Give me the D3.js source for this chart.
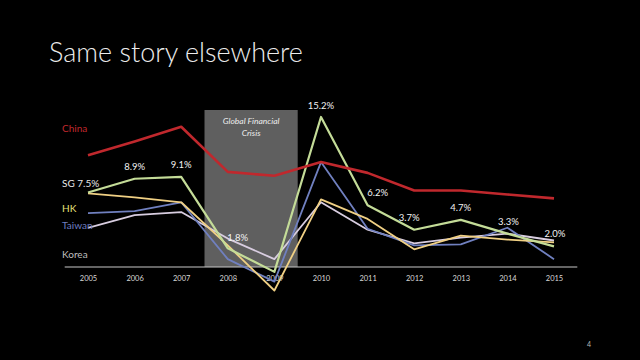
<!DOCTYPE html>
<html>
<head>
<meta charset="utf-8">
<script src="https://cdn.jsdelivr.net/npm/d3@7/dist/d3.min.js"></script>
<style>
html,body{margin:0;padding:0;background:#000;}
svg{display:block;}
text{font-family:Lato,"Open Sans",sans-serif;}
</style>
</head>
<body>
<svg id="c" width="640" height="360"></svg>
<script>
const years = [2005,2006,2007,2008,2009,2010,2011,2012,2013,2014,2015];
const china  = [11.3,12.7,14.2,9.6,9.2,10.6,9.5,7.7,7.7,7.3,6.9];
const sg     = [7.5,8.9,9.1,1.8,-0.6,15.2,6.2,3.7,4.7,3.3,2.0];
const hk     = [7.4,7.0,6.5,2.1,-2.5,6.8,4.8,1.7,3.1,2.7,2.4];
const taiwan = [5.4,5.6,6.5,0.7,-1.6,10.6,3.8,2.1,2.2,3.9,0.7];
const korea  = [3.9,5.2,5.5,2.8,0.7,6.5,3.7,2.3,2.9,3.3,2.6];
const sgLabels = [null,"8.9%","9.1%","1.8%",null,"15.2%","6.2%","3.7%","4.7%","3.3%","2.0%"];
const crisis = [2007.5,2009.5];
const crisisText = ["Global Financial","Crisis"];

const svg = d3.select("#c");
svg.append("rect").attr("width",640).attr("height",360).attr("fill","#000");

svg.append("text").attr("x",49).attr("y",62).attr("fill","#ececec")
  .attr("font-size",27).attr("font-weight",300).text("Same story elsewhere");

const x = d3.scaleLinear().domain([2005,2015]).range([88,554]);
const y = d3.scaleLinear().domain([0,15.2]).range([266,117]);

// crisis band
svg.append("rect").attr("x",x(crisis[0])).attr("width",x(crisis[1])-x(crisis[0]))
  .attr("y",110).attr("height",y(0)+1-110).attr("fill","#5f5f5f");
crisisText.forEach((t,i)=>{
  svg.append("text").attr("x",(x(crisis[0])+x(crisis[1]))/2).attr("y",124+i*12)
    .attr("text-anchor","middle").attr("font-size",8.5).attr("font-style","italic")
    .attr("fill","#eeeeee").text(t);
});

// axis
const axis = d3.axisBottom(x).tickValues(years).tickFormat(d3.format("d")).tickSize(0).tickPadding(9);
const ag = svg.append("g").attr("transform",`translate(0,${y(0)+1})`).call(axis);
ag.select(".domain").remove();
ag.append("line").attr("x1",x(2004.5)).attr("x2",x(2015.5)).attr("stroke","#c8c8c8").attr("stroke-width",1.2);
ag.selectAll(".tick text").attr("fill","#d8d8d8").attr("font-size",7.5).attr("font-family","Lato,sans-serif");

const line = d3.line().x((d,i)=>x(years[i])).y(d=>y(d));

const series = [
  {v:korea, c:"#d8cde0", w:1.8},
  {v:taiwan,c:"#7080c0", w:1.8},
  {v:hk,    c:"#f0d084", w:1.8},
  {v:sg,    c:"#c4dc98", w:2.2},
  {v:china, c:"#c0282d", w:2.6}
];
series.forEach(s=>{
  svg.append("path").attr("d",line(s.v)).attr("fill","none")
    .attr("stroke",s.c).attr("stroke-width",s.w).attr("stroke-linejoin","round");
});

// SG data labels
const lblOff = {1:[0,-9],2:[0,-9],3:[10,-7],5:[0,-8],6:[10,-9],7:[-5,-9],8:[0,-9],9:[1,-9],10:[1,-9]};
sgLabels.forEach((t,i)=>{
  if(!t) return;
  const o = lblOff[i];
  svg.append("text").attr("x",x(years[i])+o[0]).attr("y",y(sg[i])+o[1])
    .attr("text-anchor","middle").attr("font-size",9.5).attr("fill","#f2f2f2").text(t);
});

// series names
const names = [
  {t:"China", c:"#c0282d", yy:132},
  {t:"SG 7.5%", c:"#e8e8e8", yy:187},
  {t:"HK", c:"#e8e27a", yy:212},
  {t:"Taiwan", c:"#6e7ec0", yy:229},
  {t:"Korea", c:"#bfbfbf", yy:258}
];
names.forEach(n=>{
  svg.append("text").attr("x",62).attr("y",n.yy).attr("font-size",10).attr("fill",n.c).text(n.t);
});

svg.append("text").attr("x",589).attr("y",347).attr("text-anchor","middle")
  .attr("font-size",7).attr("fill","#bbb").text("4");
</script>
</body>
</html>
